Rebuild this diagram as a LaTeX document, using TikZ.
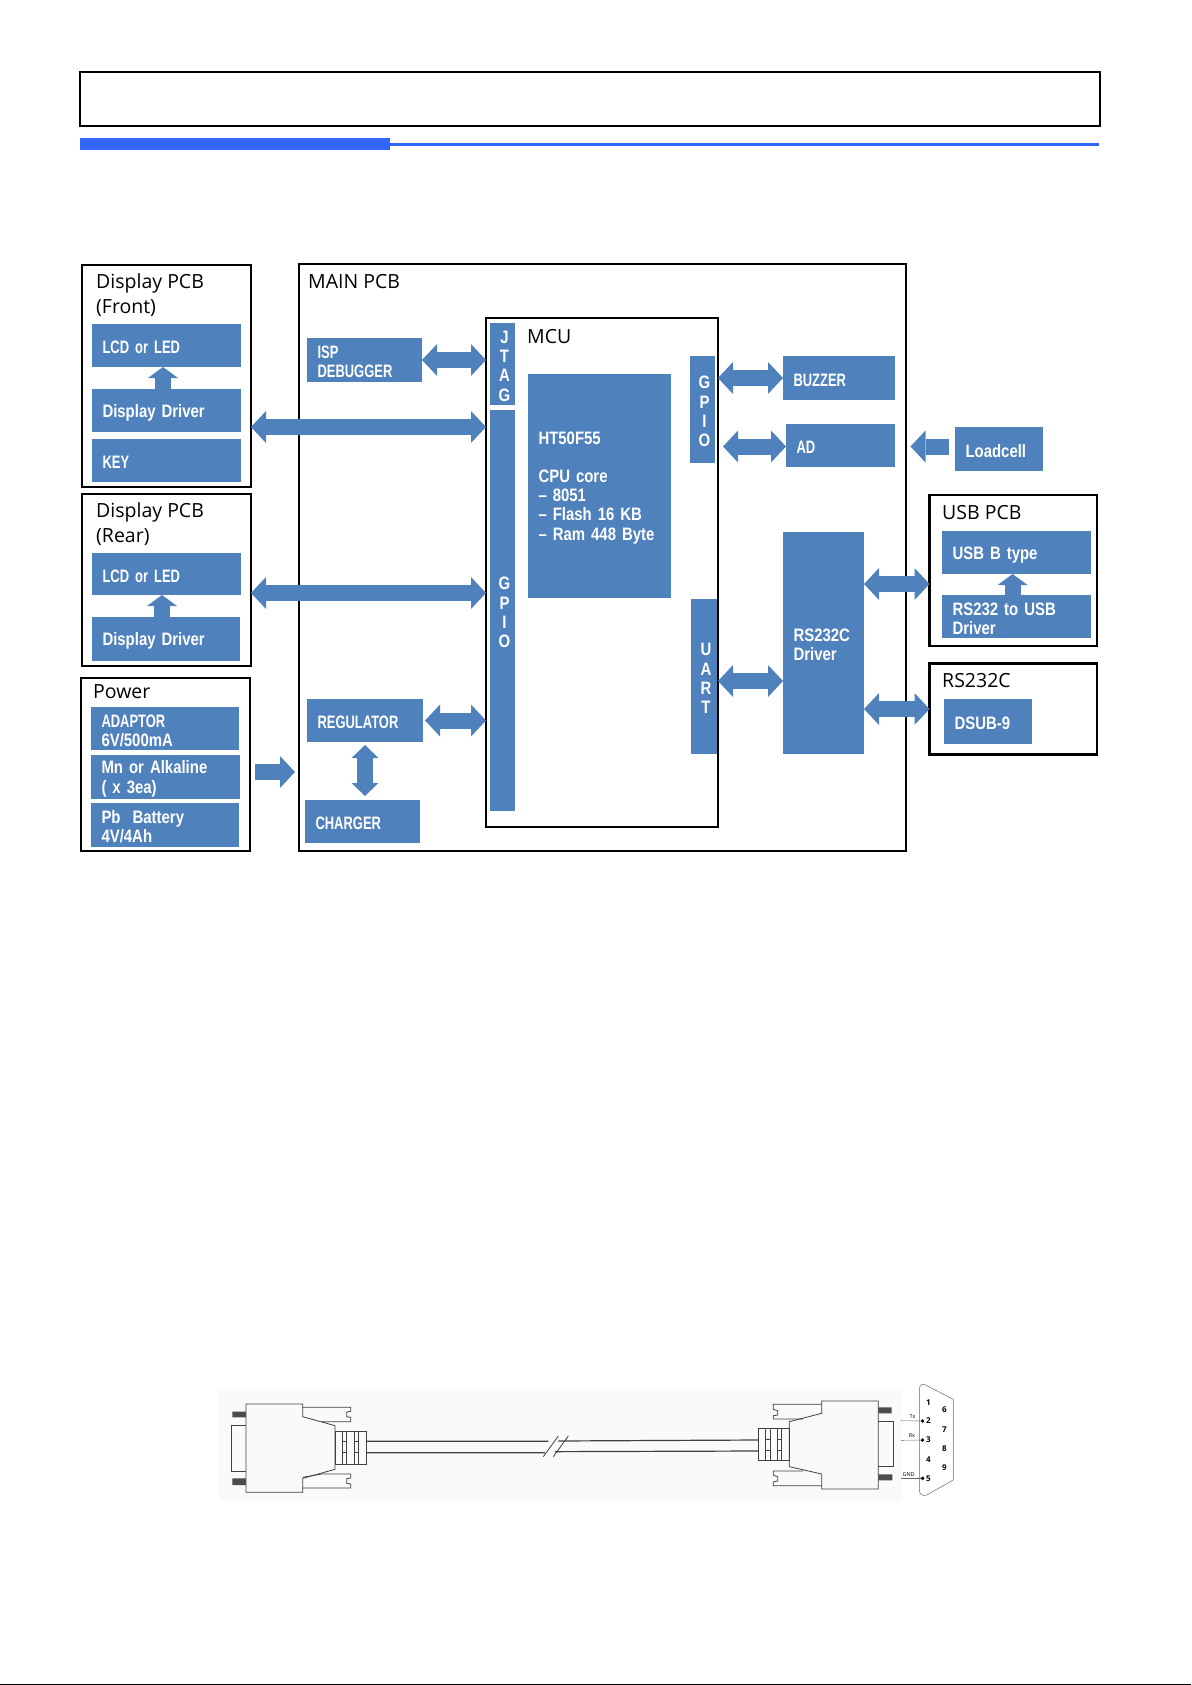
\documentclass[tikz,border=0pt]{standalone}
\usepackage{fontspec}
\setmainfont{Open Sans}
\newfontfamily\lblface[FakeStretch=0.83]{Liberation Sans Bold}
\newfontfamily\capface[FakeStretch=0.72]{Liberation Sans Bold}
\usetikzlibrary{arrows.meta}

\definecolor{blockblue}{HTML}{4F81BD}
\definecolor{barblue}{HTML}{3366FF}

\tikzset{
  blk/.style 2 args={fill=blockblue, text=white, anchor=north west, align=left,
    font=\lblface\fontsize{18}{19.3}\selectfont, inner xsep=10.5pt, inner ysep=0pt, outer sep=0pt,
    minimum width=#1, minimum height=#2, text width=#1-21pt, execute at begin node={\vskip -2.5pt}},
  capblk/.style={font=\capface\fontsize{18}{19.3}\selectfont},
  port/.style 2 args={fill=blockblue, text=white, anchor=north west, align=center,
    font=\lblface\fontsize{18}{19.3}\selectfont, inner sep=0pt, outer sep=0pt,
    minimum width=#1, minimum height=#2, text width=#1, execute at begin node={\vskip -2.5pt\advance\leftskip 4pt}},
  panel/.style 2 args={draw, line width=2.6pt, anchor=north west, inner sep=0pt, outer sep=0pt,
    minimum width=#1, minimum height=#2},
  title/.style={anchor=west, align=left, inner sep=0pt, font=\fontsize{19.5}{25}\selectfont},
  blockarrow/.style={line width=16pt, color=blockblue},
  smallarrow/.style={line width=16pt, color=blockblue, >={Triangle[length=11pt,width=30pt,line width=0pt]}},
  pin/.style={inner sep=0pt, font=\bfseries\fontsize{8}{8}\selectfont},
  sig/.style={inner sep=0pt, font=\fontsize{5.5}{6}\selectfont},
  dsub/.style={line width=0.8pt, draw=black!75}
}

\begin{document}
\begin{tikzpicture}[x=1pt, y=-1pt, >={Triangle[length=15pt,width=32pt,line width=0pt]}]
\useasboundingbox (0,0) rectangle (1191,1685);

\node[panel={1020}{54}] (header) at (80,72) {};
\node[fill=barblue, anchor=north west, inner sep=0pt, minimum width=310, minimum height=12] (barthick) at (80,138) {};
\node[fill=barblue, anchor=north west, inner sep=0pt, minimum width=709, minimum height=3] (barthin) at (390,143) {};
\node[fill=black, anchor=north west, inner sep=0pt, minimum width=1191, minimum height=1] (pageedge) at (0,1684) {};

% display boards
\node[panel={169}{222}] (dispfront) at (82,265) {};
\node[title] (dispfrontname) at (96,295.5) {Display PCB\\(Front)};
\node[blk={149}{43}, capblk] (lcdfront) at (92,324) {LCD or LED};
\node[blk={149}{43}] (driverfront) at (92,389) {Display Driver};
\node[blk={149}{43}, capblk] (key) at (92,439) {KEY};

\node[panel={169}{172}] (disprear) at (82,494) {};
\node[title] (disprearname) at (96,524.5) {Display PCB\\(Rear)};
\node[blk={149}{42}, capblk] (lcdrear) at (92,553) {LCD or LED};
\node[blk={148}{44}] (driverrear) at (92,617) {Display Driver};

\node[panel={169}{173}] (power) at (81,678) {};
\node[title] (powername) at (93,692) {Power};
\node[blk={148}{43}] (adaptor) at (91,707) {{\capface ADAPTOR}\\6V/500mA};
\node[blk={149}{44}] (alkaline) at (91,755) {Mn or Alkaline\\( x 3ea)};
\node[blk={148}{44}] (battery) at (91,803) {Pb\ \ Battery\\4V/4Ah};

% main board
\node[panel={607}{587}] (mainpcb) at (299,264) {};
\node[title] (mainname) at (308,282) {MAIN PCB};
\node[blk={115}{44}, capblk] (isp) at (307,338) {ISP\\DEBUGGER};
\node[blk={116}{43}, capblk] (regulator) at (307,699) {REGULATOR};
\node[blk={115}{43}, capblk] (charger) at (305,800) {CHARGER};

\node[panel={232}{509}] (mcu) at (486,318) {};
\node[title] (mcuname) at (527,337) {MCU};
\node[port={25}{82}] (jtag) at (490,323) {J\\T\\A\\G};
\node[port={25}{401}] (gpioleft) at (490,410) {G\\P\\I\\O};
\node[port={25}{107}] (gpioright) at (690,356) {G\\P\\I\\O};
\node[port={26}{155}] (uart) at (691,599) {U\\A\\R\\T};
\node[blk={143}{224}] (core) at (528,374) {HT50F55\\[18pt]CPU core\\– 8051\\– Flash 16 KB\\– Ram 448 Byte};

\node[blk={112}{44}, capblk] (buzzer) at (783,356) {BUZZER};
\node[blk={109}{43}, capblk] (ad) at (786,424) {AD};
\node[blk={81}{222}] (rsdriver) at (783,532) {RS232C\\Driver};

% outside the main board
\node[blk={88}{44}] (loadcell) at (955,427) {Loadcell};

\node[panel={167.5}{151}] (usbpcb) at (929.5,495) {};
\node[title] (usbname) at (942,512.5) {USB PCB};
\node[blk={149}{43}] (usbb) at (942,531) {USB B type};
\node[blk={149}{43}] (rsusb) at (942,595) {RS232 to USB\\Driver};

\node[panel={167.5}{91}] (rspcb) at (929.5,663.5) {};
\node[title] (rsname) at (942,681) {RS232C};
\node[blk={88}{45}] (dsubnine) at (944,699) {DSUB-9};

\path[smallarrow, ->] (driverfront.north -| 163,0) edge (lcdfront.south -| 163,0)
      (driverrear.north -| 162,0) edge (lcdrear.south -| 162,0)
      (rsusb.north -| 1012.6,0) edge (usbb.south -| 1012.6,0);

\path[blockarrow, <->] (dispfront.east |- 0,427) edge (mcu.west |- 0,427)
      (disprear.east |- 0,593) edge (mcu.west |- 0,593)
      (isp.east) edge (isp.east -| mcu.west)
      (regulator.east) edge[shorten <=2pt] (regulator.east -| mcu.west)
      (mcu.east |- buzzer.west) edge (buzzer.west)
      (mcu.east |- 0,446.5) edge[shorten <=5pt] (ad.west |- 0,446.5)
      (mcu.east |- 0,681) edge (rsdriver.west |- 0,681)
      (rsdriver.east |- 0,584) edge (usbpcb.west |- 0,584)
      (rsdriver.east |- 0,709) edge (rspcb.west |- 0,709);
\path[blockarrow, <->, >={Triangle[length=13pt,width=27pt,line width=0pt]}]
      (regulator.south -| 365,0) edge[shorten <=3pt, shorten >=4pt] (charger.north -| 365,0);
\path[blockarrow, ->] (power.east |- 0,772) edge[shorten <=5pt, shorten >=4pt] (mainpcb.west |- 0,772);
\path[blockarrow, <-] (mainpcb.east |- 0,446.5) edge[shorten <=4.5pt, shorten >=6pt] (loadcell.west |- 0,446.5);

% cable drawing
\begin{scope}[shift={(200,1370)}, x=0.3333pt, y=-0.3333pt]
\fill[black!2] (57,57) rectangle (2105,392);
\draw[dsub] (138,102) -- (308,102) -- (308,140) -- (405,167) -- (405,298) -- (308,325) -- (308,367) -- (138,367) -- cycle;
\draw[dsub] (138,167) -- (94,167) -- (94,304) -- (138,304);
\fill[black!70] (97,125) rectangle (138,142) (97,325) rectangle (138,345);
\draw[dsub] (308,112) -- (452,112) -- (452,124) -- (440,126) -- (440,140) -- (452,142) -- (452,155) -- (365,155);
\draw[dsub] (308,322) -- (365,312) -- (452,312) -- (452,324) -- (440,326) -- (440,340) -- (452,342) -- (452,354) -- (308,354);
\draw[dsub] (405,185) rectangle (500,282);
\foreach \x in {428,440,463,475} \draw[dsub] (\x,185) -- (\x,282);
\foreach \x in {428,463} \draw[dsub] (\x,215) -- (\x+12,215) (\x,248) -- (\x+12,248);
\draw[dsub, line width=1.2pt] (500,214) -- (1045,214) (1075,213) -- (1675,210);
\draw[dsub, line width=1.2pt] (500,248) -- (1035,248) (1065,245) -- (1675,243);
\draw[dsub] (1030,260) -- (1075,198) (1060,260) -- (1105,198);
\end{scope}

\begin{scope}[shift={(600,1370)}, x=0.3333pt, y=-0.3333pt]
\draw[dsub] (665,93) -- (835,93) -- (835,357) -- (665,357) -- (665,312) -- (568,290) -- (568,155) -- (665,130) -- cycle;
\draw[dsub] (835,153) -- (880,153) -- (880,290) -- (835,290);
\fill[black!70] (835,112) rectangle (875,130) (835,313) rectangle (877,331);
\draw[dsub] (665,103) -- (520,103) -- (520,118) -- (533,122) -- (533,135) -- (520,137) -- (520,147) -- (610,147);
\draw[dsub] (610,303) -- (520,303) -- (520,316) -- (533,320) -- (533,333) -- (520,336) -- (520,347) -- (665,347);
\draw[dsub] (475,175) rectangle (568,272);
\foreach \x in {497,510,532,545} \draw[dsub] (\x,175) -- (\x,272);
\foreach \x in {497,532} \draw[dsub] (\x,207) -- (\x+13,207) (\x,240) -- (\x+13,240);

% pin-out
\draw[line width=0.5pt, draw=black!60] (958,60) .. controls (958,48) and (963,40) .. (975,44) -- (1060,88) -- (1060,330) -- (980,375) .. controls (968,380) and (958,372) .. (958,360) -- cycle;
\node[pin] (pinone) at (985,97) {1};
\node[pin] (pintwo) at (985,153) {2};
\node[pin] (pinthree) at (985,210) {3};
\node[pin] (pinfour) at (985,268) {4};
\node[pin] (pinfive) at (985,325) {5};
\node[pin] (pinsix) at (1033,120) {6};
\node[pin] (pinseven) at (1033,179) {7};
\node[pin] (pineight) at (1033,235) {8};
\node[pin] (pinnine) at (1033,292) {9};
\node[sig] (tx) at (938,141) {Tx};
\node[sig] (rx) at (936,197) {Rx};
\node[sig] (gnd) at (926,314) {GND};
\foreach \y/\p in {152/pintwo,211/pinthree,325/pinfive} {
  \coordinate (free) at (903,\y);
  \draw[line width=0.4pt, black!60, -{Circle[length=3.5pt,black]}] (free) -- ([xshift=-1.5pt]\p.west);
}
\end{scope}
\end{tikzpicture}
\end{document}
